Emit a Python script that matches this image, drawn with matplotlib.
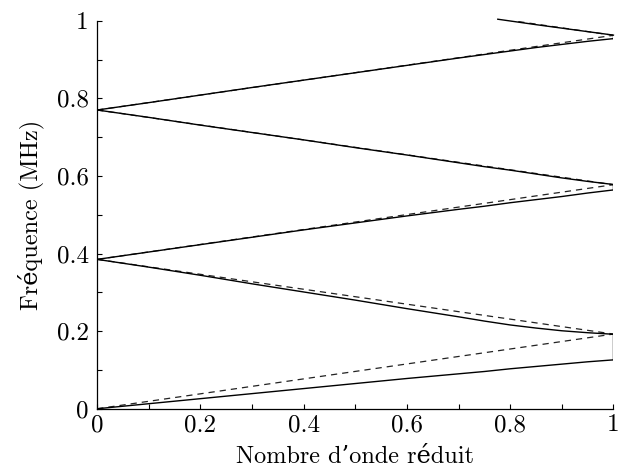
import matplotlib
matplotlib.use("Agg")
import matplotlib.pyplot as plt
from matplotlib.ticker import MultipleLocator

plt.rcParams['font.family'] = ['cmr10', 'DejaVu Serif']
plt.rcParams['axes.formatter.use_mathtext'] = True

# bandes libres (tirets) : extremites des segments replies
free_k = [0.0, 1.0]
free_bands = [
    [0.0, 0.1925],
    [0.385, 0.1925],
    [0.385, 0.5775],
    [0.77, 0.5775],
    [0.77, 0.9625],
    [1.155, 0.9625],
]

# bandes calculees (traits pleins)
k = [0.0, 0.1, 0.2, 0.3, 0.4, 0.5, 0.6, 0.7, 0.75, 0.8, 0.85, 0.9, 0.95, 1.0]
band1 = [0.0, 0.013, 0.026, 0.039, 0.052, 0.065, 0.078, 0.090, 0.096, 0.103, 0.109, 0.115, 0.121, 0.126]
band2 = [0.385, 0.365, 0.344, 0.322, 0.301, 0.280, 0.258, 0.237, 0.226, 0.216, 0.208, 0.201, 0.196, 0.192]
band3 = [0.385, 0.404, 0.423, 0.442, 0.461, 0.479, 0.497, 0.514, 0.522, 0.531, 0.539, 0.547, 0.556, 0.564]
band4 = [0.770, 0.751, 0.731, 0.712, 0.693, 0.673, 0.654, 0.634, 0.624, 0.615, 0.605, 0.595, 0.586, 0.578]
band5 = [0.770, 0.789, 0.8085, 0.828, 0.847, 0.866, 0.885, 0.904, 0.913, 0.922, 0.931, 0.939, 0.947, 0.954]
k6 = [0.776, 0.85, 0.9, 0.95, 1.0]
band6 = [1.004, 0.990, 0.981, 0.972, 0.963]

fig = plt.figure(figsize=(6.19, 4.72), dpi=100)
ax = fig.add_axes([0.157, 0.134, 0.834, 0.822])

for fb in free_bands:
    ax.plot(free_k, fb, color='#222222', lw=0.9, ls=(0, (5, 4)))

for b in [band1, band2, band3, band4, band5]:
    ax.plot(k, b, color='black', lw=1.0)
ax.plot(k6, band6, color='black', lw=1.0, clip_on=False)

# fermeture des bandes interdites en bord de zone
ax.vlines(1.0, band1[-1], band2[-1], color='black', lw=1.0)
ax.vlines(1.0, band3[-1], band4[-1], color='black', lw=1.0)
ax.vlines(1.0, band5[-1], band6[-1], color='black', lw=1.0)

ax.set_xlim(0, 1)
ax.set_ylim(0, 1)
ax.xaxis.set_major_locator(MultipleLocator(0.2))
ax.yaxis.set_major_locator(MultipleLocator(0.2))
ax.xaxis.set_minor_locator(MultipleLocator(0.1))
ax.yaxis.set_minor_locator(MultipleLocator(0.1))
ax.xaxis.set_major_formatter(plt.FuncFormatter(lambda v, p: '%g' % v))
ax.yaxis.set_major_formatter(plt.FuncFormatter(lambda v, p: '%g' % v))
ax.tick_params(which='both', direction='in', length=3.5, width=0.8, labelsize=18)
ax.tick_params(axis='x', pad=4)
ax.tick_params(axis='y', pad=6)
for s in ['top', 'right']:
    ax.spines[s].set_visible(False)
for s in ['left', 'bottom']:
    ax.spines[s].set_linewidth(0.9)

ax.set_xlabel('Nombre d’onde réduit', fontsize=17.5, labelpad=7)
ax.set_ylabel('Fréquence (MHz)', fontsize=17.5, labelpad=9)

fig.savefig('out.png', dpi=100)
